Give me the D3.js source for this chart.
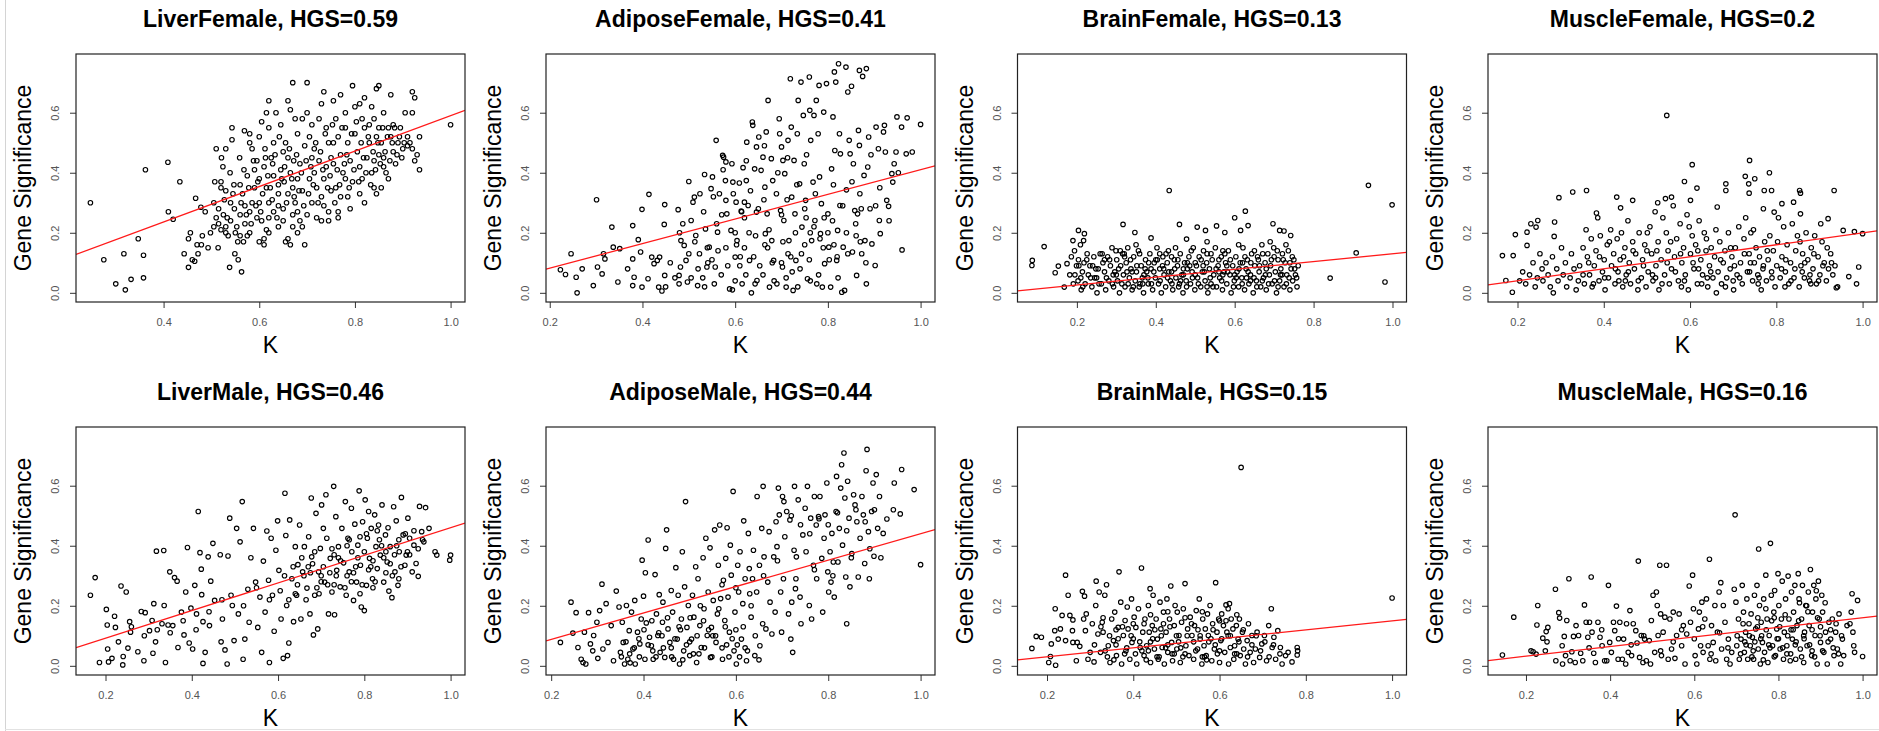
<!DOCTYPE html>
<html>
<head>
<meta charset="utf-8">
<script src="https://cdn.jsdelivr.net/npm/d3@7"></script>
<style>
  body { margin: 0; background: #fff; }
  text { font-family: "Liberation Sans", Arial, Helvetica, sans-serif; }
</style>
</head>
<body>
<script>
// Panel names and HGS values (red line is GS = HGS * K)
const panelNames = ["LiverFemale", "AdiposeFemale", "BrainFemale", "MuscleFemale",
                    "LiverMale", "AdiposeMale", "BrainMale", "MuscleMale"];
const hgsValues = [0.59, 0.41, 0.13, 0.2, 0.46, 0.44, 0.15, 0.16];
const xTickValues = [0.2, 0.4, 0.6, 0.8, 1.0];
const yTickValues = [0.0, 0.2, 0.4, 0.6];
const yLimits = [0, 0.765];

// points as [K, Gene Significance]
const liverFemale = [[.247,.30],[.275,.11],[.30,.03],[.317,.13],[.32,.01],[.332,.045],[.347,.18],[.358,.125],[.358,.05],[.362,.41],
[.409,.435],[.41,.27],[.42,.245],[.434,.37],[.443,.13],[.452,.085],[.452,.18],[.456,.2],[.467,.315],[.465,.105],[.472,.13],[.479,.16],
[.481,.19],[.478,.285],[.487,.27],[.493,.15],[.498,.2],[.47,.16],[.46,.11],[.505,.30],[.507,.37],[.51,.48],[.514,.15],[.52,.37],
[.521,.45],[.524,.42],[.53,.48],[.539,.40],[.538,.085],[.543,.55],[.543,.51],[.51,.25],[.515,.23],[.52,.21],[.525,.26],[.53,.22],
[.535,.19],[.54,.24],[.545,.33],[.548,.28],[.53,.34],[.52,.35],[.54,.3],[.55,.2],[.505,.22],[.549,.13],[.556,.11],[.563,.07],
[.559,.45],[.567,.17],[.569,.54],[.58,.53],[.56,.36],[.565,.33],[.57,.23],[.575,.19],[.58,.5],[.585,.48],[.59,.41],[.56,.26],
[.575,.39],[.585,.3],[.595,.25],[.6,.52],[.59,.35],[.57,.29],[.58,.2],[.595,.44],[.555,.17],[.605,.57],[.61,.16],[.61,.18],
[.615,.6],[.62,.64],[.62,.55],[.63,.5],[.625,.45],[.61,.42],[.6,.38],[.615,.35],[.62,.3],[.63,.27],[.64,.22],[.605,.24],[.615,.21],
[.63,.39],[.64,.33],[.645,.56],[.65,.47],[.635,.6],[.645,.41],[.65,.28],[.62,.25],[.64,.36],[.6,.3],[.612,.48],[.628,.43],
[.655,.17],[.66,.18],[.665,.16],[.66,.64],[.665,.61],[.67,.70],[.675,.58],[.68,.53],[.655,.5],[.66,.45],[.665,.4],[.67,.35],
[.675,.3],[.68,.27],[.685,.24],[.69,.22],[.69,.58],[.695,.49],[.66,.33],[.67,.26],[.68,.38],[.685,.43],[.69,.34],[.695,.16],
[.7,.7],[.7,.6],[.652,.37],[.672,.44],[.705,.52],[.71,.45],[.715,.4],[.72,.35],[.71,.3],[.72,.25],[.73,.24],[.735,.67],[.73,.63],
[.725,.58],[.74,.55],[.745,.5],[.74,.42],[.735,.38],[.73,.32],[.745,.27],[.75,.34],[.705,.38],[.715,.48],[.725,.44],[.745,.24],
[.75,.45],[.71,.56],[.735,.29],[.755,.64],[.76,.58],[.765,.52],[.77,.46],[.775,.4],[.76,.35],[.765,.27],[.77,.66],[.78,.6],
[.78,.55],[.785,.5],[.79,.44],[.78,.38],[.785,.32],[.79,.28],[.795,.69],[.8,.62],[.8,.53],[.755,.43],[.77,.32],[.795,.37],
[.755,.5],[.765,.25],[.805,.47],[.81,.42],[.815,.38],[.82,.3],[.81,.63],[.815,.58],[.82,.55],[.83,.5],[.825,.45],[.835,.4],
[.84,.35],[.845,.68],[.85,.69],[.84,.58],[.845,.52],[.85,.46],[.845,.33],[.81,.33],[.83,.56],[.835,.62],[.82,.65],[.84,.44],
[.85,.55],[.855,.5],[.86,.45],[.865,.4],[.855,.35],[.86,.6],[.87,.55],[.875,.52],[.88,.47],[.885,.43],[.87,.38],[.875,.66],
[.88,.56],[.89,.5],[.895,.55],[.86,.42],[.9,.48],[.905,.6],[.91,.52],[.915,.5],[.92,.67],[.925,.65],[.92,.48],[.925,.44],
[.93,.46],[.935,.41],[.935,.52],[.92,.6],[.91,.49],[1.0,.56],
[.515,.28],[.527,.31],[.533,.25],[.547,.36],[.553,.22],[.562,.3],[.568,.41],[.573,.26],[.578,.35],[.583,.23],[.588,.44],[.593,.29],
[.597,.37],[.603,.27],[.607,.33],[.613,.45],[.618,.39],[.623,.35],[.627,.31],[.633,.46],[.637,.25],[.642,.52],[.647,.38],[.653,.42],
[.657,.3],[.663,.48],[.668,.38],[.673,.32],[.678,.46],[.683,.34],[.688,.4],[.693,.29],[.698,.44],[.703,.33],[.708,.42],[.713,.36],
[.718,.5],[.723,.3],[.728,.47],[.733,.41],[.738,.53],[.743,.35],[.748,.39],[.753,.56],[.758,.3],[.763,.41],[.768,.36],[.773,.55],
[.778,.43],[.783,.46],[.788,.35],[.793,.53],[.798,.41],[.803,.57],[.808,.37],[.813,.5],[.818,.45],[.823,.4],[.828,.52],[.833,.36],
[.838,.47],[.843,.41],[.848,.5],[.853,.43],[.858,.55],[.863,.47],[.868,.52],[.873,.44],[.878,.5],[.883,.55],[.888,.46],[.893,.52],
[.898,.45],[.903,.5],[.62,.2],[.65,.24],[.68,.2],[.7,.26],[.6,.17],[.56,.19],[.53,.2],[.58,.27],[.64,.29],[.67,.22]];

const adiposeFemale = [[.223,.077],[.234,.061],[.246,.13],[.257,.052],[.259,0],[.27,.08],[.294,.024],[.301,.31],[.303,.086],[.313,.063],
[.316,.13],[.319,.113],[.334,.219],[.337,.152],[.347,.036],[.351,.147],[.368,.08],[.379,.224],[.379,.113],[.379,.024],[.382,.052],
[.391,.177],[.396,.136],[.399,.278],[.399,.019],[.412,.047],[.414,.328],[.42,.119],[.425,.097],[.432,.108],[.437,.119],[.435,.019],
[.442,.006],[.448,.058],[.448,.294],[.447,.228],[.477,.277],[.479,.058],[.479,.03],[.482,.086],[.483,.174],[.487,.23],[.49,.158],
[.494,.108],[.497,.036],[.5,.371],[.505,.241],[.509,.302],[.512,.319],[.515,.191],[.519,.024],[.523,.13],[.524,.33],[.534,.394],
[.536,.213],[.539,.086],[.544,.152],[.548,.347],[.551,.386],[.555,.03],[.557,.086],[.559,.508],[.562,.202],[.566,.33],[.573,.458],
[.575,.452],[.58,.436],[.579,.374],[.58,.308],[.582,.263],[.588,.013],[.591,.208],[.593,.43],[.595,.369],[.6,.119],[.602,.302],
[.604,.174],[.609,.366],[.613,.272],[.615,.03],[.617,.417],[.62,.302],[.624,.374],[.625,.502],[.628,.291],[.631,.108],[.635,0],
[.637,.569],[.638,.558],[.642,.413],[.646,.486],[.646,.269],[.647,.041],[.651,.519],[.656,.408],[.66,.452],[.664,.352],[.665,.197],
[.667,.536],[.669,.263],[.671,.641],[.674,.019],[.678,.447],[.679,.174],[.681,.374],[.683,.108],[.689,.33],[.695,.58],[.696,.53],
[.698,.274],[.7,.486],[.702,.086],[.703,.441],[.705,.241],[.707,.397],[.71,.019],[.714,.508],[.716,.174],[.719,.713],[.721,.552],
[.722,.319],[.725,.008],[.727,.441],[.729,.263],[.731,.108],[.734,.53],[.736,.641],[.739,.363],[.742,.702],[.744,.219],[.747,.591],
[.749,.43],[.752,.308],[.756,.047],[.76,.719],[.761,.608],[.763,.508],[.765,.174],[.768,.369],[.77,.591],[.772,.241],[.775,.641],
[.779,.53],[.781,.691],[.782,.386],[.784,.197],[.786,.297],[.788,.019],[.791,.602],[.793,.097],[.797,.697],[.8,.263],[.802,.152],
[.806,.019],[.808,.413],[.811,.586],[.814,.736],[.815,.474],[.817,.702],[.819,.108],[.821,.208],[.823,.763],[.825,.53],[.826,.291],
[.827,.463],[.83,.002],[.833,.152],[.836,.008],[.839,.752],[.84,.343],[.843,.669],[.846,.508],[.848,.463],[.851,.688],[.853,.136],
[.855,.43],[.858,.274],[.862,.058],[.864,.263],[.866,.541],[.868,.491],[.869,.33],[.868,.741],[.873,.13],[.875,.721],[.878,.391],
[.88,.174],[.883,.747],[.883,.03],[.886,.419],[.888,.519],[.891,.28],[.895,.163],[.902,.091],[.904,.552],[.909,.48],[.911,.241],
[.913,.197],[.92,.536],[.922,.558],[.924,.469],[.927,.308],[.931,.288],[.938,.397],[.94,.369],[.943,.43],[.949,.586],[.947,.469],
[.959,.552],[.96,.143],[.969,.463],[.971,.583],[.982,.469],[1.0,.561],
[.52,.08],[.53,.05],[.55,.11],[.57,.06],[.58,.15],[.6,.04],[.61,.09],[.62,.15],[.63,.2],[.64,.12],[.66,.06],[.67,.15],[.68,.1],
[.69,.03],[.7,.1],[.71,.05],[.72,.12],[.73,.2],[.74,.08],[.75,.16],[.76,.11],[.77,.22],[.78,.06],[.79,.15],[.8,.2],[.81,.24],
[.82,.12],[.84,.2],[.86,.23],[.87,.17],[.62,.25],[.65,.28],[.7,.26],[.75,.28],[.6,.2],[.56,.23],[.54,.15],[.5,.13],[.47,.05],[.45,.02],
[.46,.1],[.48,.2],[.505,.05],[.513,.17],[.532,.27],[.541,.1],[.553,.32],[.563,.14],[.571,.26],[.584,.09],[.596,.33],[.603,.16],
[.614,.27],[.623,.06],[.633,.34],[.644,.19],[.653,.09],[.662,.31],[.673,.21],[.684,.04],[.692,.4],[.703,.17],[.712,.31],[.723,.07],
[.733,.36],[.743,.13],[.753,.25],[.762,.04],[.773,.33],[.783,.18],[.792,.25],[.803,.11],[.812,.36],[.822,.05],[.832,.29],[.843,.13],
[.852,.37],[.861,.19],[.872,.28],[.882,.1],[.893,.46],[.903,.29],[.912,.35],[.932,.24],[.952,.4],[.574,.41],[.624,.44],[.663,.49],
[.713,.45],[.754,.46],[.534,.02],[.594,.01],[.643,.03],[.735,.02],[.776,.03],[.611,.12],[.664,.16],[.714,.13],[.762,.2],[.813,.16]];

const brainFemale = [[.087,.108],[.086,.091],[.117,.154],[.145,.067],[.153,.089],[.168,.019],[.175,.097],[.19,.174],[.204,.208],
[.219,.197],[.217,.174],[.317,.228],[.347,.201],[.388,.183],[.434,.341],[.46,.228],[.478,.179],[.505,.219],[.526,.208],[.554,.223],
[.575,.201],[.6,.25],[.615,.208],[.627,.272],[.634,.224],[.697,.23],[.714,.208],[.725,.206],[.742,.191],[.842,.049],[.908,.133],
[.939,.358],[.981,.036],[.999,.293],
[.182,.06],[.186,.12],[.191,.03],[.194,.14],[.199,.09],[.203,.04],[.204,.11],[.209,.16],[.211,.01],[.214,.07],[.218,.1],[.221,.03],
[.226,.13],[.229,.06],[.233,.09],[.238,.02],[.243,.12],[.245,.05],[.251,0],[.254,.08],[.259,.13],[.262,.03],[.266,.1],[.27,.07],
[.273,.01],[.278,.12],[.281,.04],[.285,.09],[.289,.15],[.293,.02],[.296,.07],[.301,.11],[.303,.04],[.308,0],[.311,.09],[.316,.13],
[.318,.06],[.322,.02],[.325,.1],[.329,.15],[.333,.05],[.337,.08],[.34,.01],[.344,.12],[.348,.04],[.351,.07],[.356,.14],[.358,.02],
[.363,.09],[.366,.05],[.369,0],[.374,.11],[.377,.07],[.381,.03],[.385,.13],[.388,.08],[.392,.01],[.396,.1],[.399,.05],[.403,.15],
[.407,.03],[.41,.08],[.414,0],[.418,.12],[.421,.06],[.425,.02],[.429,.1],[.432,.14],[.437,.04],[.44,.07],[.443,.01],[.447,.11],
[.451,.05],[.455,.09],[.458,.02],[.462,.13],[.466,.06],[.469,0],[.473,.1],[.477,.04],[.48,.08],[.484,.12],[.488,.03],[.492,.07],
[.495,.15],[.499,.01],[.503,.09],[.506,.05],[.51,.12],[.514,.02],[.518,.07],[.521,.14],[.525,.04],[.529,.1],[.532,0],[.536,.08],
[.54,.03],[.543,.11],[.547,.06],[.551,.15],[.554,.02],[.558,.09],[.562,.05],[.566,.12],[.569,.01],[.573,.07],[.577,.1],[.58,.03],
[.584,.14],[.588,.06],[.591,0],[.595,.09],[.599,.04],[.603,.12],[.606,.07],[.61,.02],[.614,.1],[.618,.05],[.621,.15],[.625,.01],
[.629,.08],[.632,.11],[.636,.03],[.64,.06],[.643,.13],[.647,0],[.651,.09],[.655,.04],[.658,.12],[.662,.07],[.666,.02],[.669,.16],
[.673,.05],[.677,.1],[.68,.01],[.684,.13],[.688,.06],[.691,.09],[.695,.03],[.699,.15],[.703,.07],[.706,0],[.71,.11],[.714,.04],
[.717,.08],[.721,.13],[.725,.02],[.728,.1],[.732,.06],[.736,.14],[.74,.01],[.743,.08],[.747,.04],[.75,.11],[.754,.06],[.758,.02],
[.761,.09],[.21,.05],[.24,.09],[.27,.11],[.3,.06],[.32,.13],[.34,.07],[.36,.03],[.38,.05],[.4,.11],[.42,.08],[.44,.12],[.46,.03],
[.48,.1],[.5,.06],[.52,.09],[.54,.13],[.56,.07],[.58,.09],[.6,.06],[.62,.1],[.64,.04],[.66,.11],[.68,.08],[.7,.12],[.72,.06],
[.74,.1],[.31,.14],[.35,.16],[.41,.13],[.45,.15],[.49,.14],[.53,.17],[.57,.14],[.61,.16],[.65,.14],[.69,.17],[.73,.16],
[.195,.06],[.205,.09],[.215,.02],[.225,.11],[.235,.05],[.248,.08],[.256,.03],[.264,.13],[.275,.05],[.283,.11],[.292,.06],[.299,.14],
[.306,.08],[.314,.03],[.321,.12],[.327,.07],[.336,.11],[.343,.02],[.352,.09],[.359,.13],[.367,.03],[.373,.08],[.382,.1],[.389,.03],
[.395,.07],[.404,.11],[.411,.04],[.417,.09],[.426,.13],[.433,.07],[.441,.03],[.448,.08],[.456,.11],[.463,.04],[.47,.08],[.478,.02],
[.486,.09],[.493,.05],[.5,.1],[.508,.03],[.515,.11],[.523,.07],[.53,.13],[.538,.05],[.545,.02],[.553,.08],[.56,.11],[.567,.04],
[.575,.13],[.582,.07],[.589,.11],[.597,.02],[.604,.05],[.611,.08],[.619,.03],[.626,.12],[.634,.07],[.641,.1],[.649,.05],[.656,.02],
[.663,.09],[.671,.13],[.678,.06],[.686,.03],[.693,.11],[.701,.04],[.708,.14],[.716,.06],[.723,.11],[.731,.03],[.738,.05],[.746,.12],
[.752,.08],[.757,.05],[.33,.03],[.37,.06],[.43,.05],[.47,.06],[.53,.02],[.57,.06],[.63,.05],[.67,.04],[.71,.02],[.25,.05],[.29,.03]];

const muscleFemale = [[.165,.124],[.173,.041],[.188,.002],[.19,.124],[.195,.194],[.222,.158],[.222,.202],[.231,.23],[.247,.241],
[.243,.219],[.296,.317],[.328,.336],[.286,.236],[.285,.188],[.36,.341],[.383,.266],[.43,.319],[.439,.283],[.467,.308],[.525,.3],
[.546,.591],[.543,.314],[.557,.319],[.587,.371],[.605,.427],[.616,.349],[.601,.308],[.663,.286],[.683,.363],[.683,.341],[.728,.388],
[.736,.363],[.737,.332],[.738,.441],[.75,.38],[.77,.28],[.772,.341],[.784,.4],[.789,.341],[.795,.269],[.813,.297],[.84,.302],
[.854,.341],[.856,.332],[.856,.263],[.934,.341],[.92,.247],[.903,.23],[.955,.208],[.981,.204],[1.0,.197],[.991,.086],[.968,.054],
[.986,.03],[.939,.017],
[.205,.04],[.212,.07],[.219,.03],[.228,.06],[.236,.1],[.241,.02],[.246,.05],[.252,.13],[.257,.08],[.259,.04],[.266,.1],[.271,.06],
[.276,.02],[.281,.12],[.283,0],[.291,.08],[.294,.04],[.302,.15],[.306,.06],[.311,.1],[.314,.02],[.322,.05],[.325,.13],[.331,.08],
[.336,.01],[.341,.04],[.344,.09],[.352,.15],[.355,.03],[.359,.21],[.362,.12],[.367,.06],[.371,.18],[.373,.02],[.378,.09],[.382,.14],
[.386,.25],[.389,.04],[.392,.19],[.397,.07],[.401,.11],[.403,.01],[.408,.16],[.411,.05],[.416,.21],[.418,.09],[.423,.13],[.426,.03],
[.431,.18],[.433,.07],[.438,.11],[.441,.2],[.444,.02],[.449,.15],[.452,.06],[.456,.24],[.459,.1],[.462,.03],[.467,.17],[.471,.08],
[.474,.13],[.479,.01],[.482,.2],[.487,.05],[.49,.11],[.495,.16],[.498,.02],[.503,.07],[.507,.22],[.511,.13],[.514,.04],[.519,.27],
[.521,.09],[.526,.17],[.528,.01],[.533,.11],[.537,.25],[.541,.06],[.545,.2],[.549,.14],[.552,.03],[.557,.08],[.561,.29],[.564,.12],
[.569,.18],[.573,.04],[.577,.23],[.581,.1],[.585,.15],[.589,.06],[.593,.26],[.596,.01],[.601,.13],[.605,.19],[.609,.08],[.613,.16],
[.617,.03],[.621,.24],[.625,.11],[.629,.06],[.633,.2],[.637,.14],[.641,.02],[.645,.09],[.649,.15],[.653,.05],[.657,.12],[.661,0],
[.665,.07],[.669,.17],[.673,.03],[.677,.1],[.681,.14],[.685,.05],[.689,.2],[.693,.08],[.697,.12],[.701,.01],[.705,.15],[.709,.06],
[.713,.22],[.717,.1],[.721,.03],[.725,.18],[.729,.25],[.733,.07],[.737,.13],[.741,.2],[.745,.04],[.749,.1],[.753,.15],[.757,.06],
[.761,.12],[.765,.01],[.769,.08],[.773,.17],[.777,.04],[.781,.11],[.785,.19],[.789,.07],[.793,.14],[.797,.02],[.801,.09],[.805,.25],
[.809,.05],[.813,.12],[.817,.22],[.821,.07],[.825,.16],[.829,.03],[.833,.1],[.837,.23],[.841,.05],[.845,.14],[.849,.19],[.853,.02],
[.857,.09],[.861,.13],[.865,.05],[.869,.2],[.873,.11],[.877,.04],[.881,.15],[.885,.08],[.889,.19],[.893,.03],[.897,.12],[.901,.06],
[.906,.17],[.911,.1],[.916,.04],[.921,.08],[.926,.13],[.931,.06],[.936,.09],[.942,.02],
[.352,.06],[.365,.1],[.376,.03],[.39,.12],[.402,.05],[.413,.17],[.427,.08],[.435,.04],[.446,.12],[.457,.07],[.468,.14],[.48,.04],
[.492,.09],[.501,.2],[.513,.06],[.523,.14],[.535,.03],[.547,.1],[.555,.17],[.566,.07],[.578,.13],[.587,.04],[.598,.22],[.607,.1],
[.618,.14],[.627,.03],[.638,.18],[.648,.07],[.66,.21],[.671,.11],[.682,.02],[.694,.15],[.703,.09],[.715,.05],[.726,.13],[.738,.07],
[.747,.21],[.758,.03],[.77,.09],[.779,.14],[.79,.05],[.803,.17],[.812,.08],[.822,.11],[.834,.04],[.843,.08],[.855,.17],[.866,.1],
[.878,.06],[.887,.13],[.898,.04],[.908,.09],[.918,.15],[.928,.1],[.45,.04],[.52,.05],[.58,.02],[.64,.05],[.7,.04],[.76,.05],
[.82,.02],[.88,.03],[.5,.14],[.62,.08],[.74,.1],[.86,.07]];

const liverMale = [[.165,.235],[.176,.294],[.186,.011],[.202,.188],[.204,.136],[.205,.056],[.207,.013],[.215,.025],[.221,.165],
[.223,.128],[.236,.266],[.24,.003],[.241,.031],[.248,.246],[.252,.059],[.256,.147],[.258,.112],[.275,.047],[.283,.181],[.289,.017],
[.292,.177],[.302,.117],[.308,.151],[.31,.042],[.312,.207],[.316,.08],[.318,.382],[.331,.14],[.335,.384],[.336,.201],[.339,.011],
[.345,.136],[.349,.313],[.356,.134],[.36,.294],[.366,.282],[.368,.061],[.376,.179],[.382,.103],[.386,.246],[.39,.394],[.394,.076],
[.398,.192],[.402,.056],[.407,.268],[.411,.173],[.415,.514],[.419,.377],[.422,.322],[.423,.237],[.426,.147],[.426,.008],[.431,.045],
[.438,.363],[.441,.134],[.444,.282],[.449,.408],[.453,.218],[.466,.37],[.468,.08],[.471,.156],[.477,.053],[.482,.006],[.484,.366],
[.488,.492],[.491,.235],[.494,.201],[.498,.084],[.504,.458],[.508,.173],[.512,.413],[.517,.547],[.519,.022],[.523,.089],[.53,.255],
[.533,.145],[.537,.36],[.543,.458],[.548,.279],[.553,.128],[.558,.229],[.562,.045],[.566,.349],[.57,.179],[.574,.449],[.578,.285],
[.58,.011],[.584,.425],[.587,.235],[.591,.115],[.595,.385],[.599,.483],[.602,.318],[.607,.156],[.612,.025],[.616,.575],[.618,.434],
[.62,.201],[.622,.034],[.625,.076],[.627,.486],[.632,.29],[.636,.147],[.64,.397],[.643,.235],[.646,.337],[.65,.469],[.653,.156],
[.657,.313],[.661,.397],[.667,.259],[.671,.43],[.674,.173],[.677,.559],[.678,.363],[.682,.103],[.685,.235],[.688,.508],[.692,.123],
[.694,.313],[.698,.391],[.701,.536],[.705,.458],[.708,.279],[.711,.57],[.713,.425],[.717,.173],[.721,.358],[.725,.246],[.729,.598],
[.731,.17],[.734,.497],[.736,.318],[.74,.397],[.744,.263],[.748,.458],[.752,.343],[.756,.547],[.758,.235],[.762,.425],[.765,.313],
[.77,.525],[.771,.38],[.775,.218],[.778,.472],[.782,.279],[.785,.402],[.788,.583],[.791,.335],[.793,.196],[.796,.48],[.8,.184],
[.802,.553],[.805,.268],[.807,.425],[.81,.514],[.812,.358],[.816,.458],[.819,.29],[.824,.503],[.827,.397],[.83,.324],[.833,.469],
[.837,.369],[.841,.536],[.845,.279],[.849,.436],[.853,.346],[.857,.249],[.86,.397],[.864,.227],[.868,.53],[.871,.313],[.874,.483],
[.878,.268],[.881,.38],[.886,.561],[.89,.436],[.894,.335],[.897,.369],[.901,.492],[.905,.425],[.911,.313],[.915,.402],[.92,.341],
[.925,.298],[.928,.531],[.933,.447],[.938,.413],[.942,.527],[.95,.458],[.964,.38],[.968,.369],[.998,.352],[1.0,.369],
[.66,.3],[.68,.34],[.7,.28],[.72,.31],[.74,.36],[.76,.3],[.78,.33],[.8,.38],[.82,.35],[.84,.4],[.86,.34],[.88,.42],[.9,.38],
[.76,.4],[.79,.43],[.83,.45],[.87,.37],[.73,.27],[.69,.26],[.81,.32],[.85,.31],
[.605,.25],[.615,.3],[.625,.22],[.635,.33],[.645,.27],[.655,.36],[.665,.22],[.675,.31],[.685,.38],[.695,.24],[.705,.33],[.715,.27],
[.725,.39],[.735,.3],[.745,.35],[.755,.26],[.765,.42],[.775,.31],[.785,.36],[.795,.27],[.805,.44],[.815,.33],[.825,.28],[.835,.42],
[.845,.36],[.855,.46],[.865,.3],[.875,.4],[.885,.33],[.895,.44],[.905,.37],[.915,.45],[.925,.39],[.935,.42],[.79,.24],[.82,.26],
[.85,.38],[.88,.29],[.77,.28],[.73,.37],[.7,.3],[.67,.33],[.64,.24],[.58,.22],[.55,.26],[.52,.2],[.47,.22],[.44,.18],[.41,.12],
[.38,.15],[.35,.11],[.32,.12],[.29,.1],[.26,.13],[.23,.08]];

const adiposeMale = [[.22,.078],[.243,.212],[.247,.109],[.254,.177],[.258,.061],[.265,.022],[.269,.011],[.275,.006],[.272,.112],
[.281,.177],[.285,.073],[.29,.05],[.292,.101],[.299,.145],[.301,.025],[.305,.184],[.31,.272],[.312,.056],[.319,.207],[.323,.078],
[.33,.134],[.335,.017],[.341,.249],[.347,.196],[.35,.045],[.354,.145],[.356,.078],[.359,.006],[.363,.201],[.366,.022],[.369,.117],
[.374,.179],[.377,.056],[.381,.218],[.382,.006],[.387,.112],[.392,.073],[.395,.156],[.397,.352],[.4,.232],[.403,.022],[.404,.31],
[.406,.143],[.41,.419],[.413,.095],[.417,.067],[.421,.022],[.425,.304],[.428,.173],[.431,.101],[.434,.237],[.436,.045],[.441,.145],
[.442,.212],[.446,.028],[.448,.391],[.45,.453],[.453,.123],[.457,.078],[.46,.251],[.463,.179],[.465,.022],[.47,.327],[.473,.089],
[.475,.235],[.478,.006],[.482,.156],[.484,.38],[.487,.05],[.489,.263],[.491,.547],[.494,.128],[.497,.201],[.5,.034],[.504,.089],
[.506,.235],[.509,.162],[.513,.33],[.515,.011],[.518,.29],[.522,.134],[.525,.061],[.529,.36],[.531,.19],[.535,.425],[.538,.101],
[.54,.246],[.544,.393],[.545,.028],[.547,.128],[.551,.218],[.554,.453],[.557,.078],[.56,.173],[.562,.335],[.565,.469],[.567,.224],
[.571,.022],[.573,.285],[.576,.151],[.578,.358],[.581,.46],[.583,.229],[.586,.112],[.588,.402],[.59,.302],[.594,.581],[.596,.05],
[.598,.179],[.601,.006],[.604,.335],[.606,.246],[.609,.38],[.612,.089],[.615,.207],[.617,.483],[.62,.29],[.623,.017],[.627,.441],
[.629,.324],[.633,.162],[.636,.29],[.638,.385],[.641,.034],[.645,.246],[.646,.564],[.651,.335],[.652,.067],[.656,.458],[.659,.598],
[.661,.363],[.665,.123],[.669,.279],[.672,.447],[.674,.212],[.678,.106],[.682,.363],[.685,.179],[.687,.48],[.689,.397],[.692,.592],
[.694,.503],[.697,.246],[.699,.112],[.701,.564],[.703,.29],[.704,.547],[.706,.43],[.71,.514],[.714,.173],[.717,.486],[.719,.089],
[.721,.212],[.723,.045],[.726,.385],[.727,.598],[.729,.257],[.731,.363],[.735,.553],[.739,.229],[.741,.14],[.745,.436],[.75,.525],
[.752,.38],[.755,.598],[.759,.201],[.762,.492],[.764,.156],[.768,.335],[.77,.564],[.774,.469],[.775,.29],[.779,.497],[.782,.564],
[.786,.358],[.788,.179],[.791,.425],[.793,.503],[.797,.609],[.799,.313],[.801,.246],[.804,.38],[.806,.279],[.808,.441],[.811,.346],
[.813,.229],[.817,.514],[.818,.631],[.821,.346],[.824,.458],[.827,.592],[.829,.67],[.831,.402],[.834,.709],[.836,.559],[.838,.296],
[.84,.14],[.842,.615],[.845,.492],[.847,.263],[.851,.374],[.855,.57],[.858,.536],[.862,.48],[.865,.296],[.869,.425],[.873,.564],
[.876,.503],[.879,.341],[.882,.65],[.884,.721],[.887,.447],[.889,.29],[.894,.514],[.897,.609],[.899,.365],[.904,.637],[.907,.458],
[.911,.564],[.914,.36],[.919,.441],[.927,.489],[.941,.52],[.943,.609],[.956,.506],[.959,.654],[.986,.587],[1.0,.337],
[.37,.04],[.39,.09],[.42,.05],[.44,.1],[.46,.06],[.48,.12],[.5,.08],[.52,.04],[.53,.15],[.55,.1],[.58,.07],[.6,.12],[.62,.06],
[.352,.03],[.362,.08],[.371,.01],[.38,.06],[.391,.03],[.401,.12],[.41,.07],[.418,.15],[.427,.03],[.433,.11],[.443,.06],[.452,.16],
[.461,.03],[.468,.09],[.477,.13],[.485,.02],[.493,.07],[.501,.16],[.508,.04],[.516,.1],[.523,.2],[.532,.06],[.541,.12],[.548,.03],
[.556,.1],[.563,.19],[.57,.06],[.577,.13],[.585,.03],[.592,.09],[.603,.07],[.608,.03],[.616,.13],[.625,.05],[.633,.2],[.642,.1],
[.65,.02],[.658,.14],[.72,.5],[.74,.47],[.76,.44],[.78,.49],[.8,.47],[.82,.51],[.84,.45],[.86,.52],[.88,.48],[.9,.52],[.77,.32],
[.81,.3],[.85,.36],[.89,.39],[.73,.29],[.69,.35],[.66,.3],[.63,.24],[.6,.26],[.57,.27]];

const brainMale = [[.165,.058],[.175,.098],[.187,.095],[.204,.011],[.208,.031],[.21,.073],[.218,.117],[.22,.002],[.219,.19],[.226,.089],
[.231,.123],[.235,.168],[.243,.302],[.243,.084],[.249,.235],[.253,.168],[.26,.153],[.259,.117],[.26,.078],[.268,.017],[.27,.078],
[.276,.065],[.282,.248],[.285,.156],[.287,.232],[.289,.117],[.291,.173],[.295,.022],[.3,.045],[.305,.14],[.309,.013],[.313,.201],
[.314,.282],[.318,.106],[.321,.246],[.324,.045],[.328,.145],[.33,.112],[.334,.235],[.338,.27],[.342,.067],[.346,.011],[.35,.156],
[.354,.084],[.357,.179],[.361,.034],[.365,.128],[.367,.313],[.371,.212],[.373,.006],[.377,.101],[.381,.151],[.383,.05],[.386,.196],
[.388,.123],[.392,.022],[.396,.223],[.397,.078],[.402,.162],[.406,.128],[.408,.006],[.412,.19],[.416,.061],[.419,.326],[.422,.112],
[.425,.034],[.427,.156],[.431,.067],[.435,.201],[.437,.112],[.439,.257],[.44,.011],[.444,.134],[.446,.235],[.449,.056],[.453,.156],
[.456,.089],[.458,.022],[.462,.212],[.464,.123],[.467,.061],[.47,.179],[.472,.006],[.476,.112],[.478,.223],[.48,.045],[.484,.156],
[.487,.266],[.489,.078],[.491,.017],[.495,.134],[.497,.201],[.501,.056],[.502,.179],[.506,.101],[.509,.011],[.512,.145],[.516,.19],
[.52,.274],[.522,.067],[.526,.123],[.529,.034],[.532,.162],[.536,.101],[.54,.022],[.542,.134],[.546,.184],[.549,.056],[.553,.223],
[.555,.089],[.559,.006],[.561,.156],[.564,.067],[.567,.123],[.569,.034],[.572,.173],[.574,.101],[.578,.201],[.582,.017],[.584,.14],
[.588,.056],[.591,.277],[.594,.112],[.598,.156],[.6,.011],[.603,.084],[.605,.173],[.609,.134],[.612,.045],[.615,.203],[.617,.112],
[.621,.006],[.623,.207],[.625,.061],[.627,.156],[.631,.123],[.633,.022],[.635,.067],[.639,.134],[.643,.089],[.646,.156],[.648,.034],
[.65,.661],[.653,.112],[.656,.056],[.66,.006],[.664,.084],[.667,.14],[.671,.045],[.675,.101],[.679,.011],[.683,.056],[.687,.112],
[.693,.028],[.698,.073],[.704,.101],[.709,.017],[.714,.134],[.72,.19],[.722,.061],[.726,.095],[.73,.022],[.735,.117],[.741,.061],
[.745,.006],[.753,.034],[.759,.045],[.768,.013],[.78,.061],[.78,.036],[.781,.05],[1.0,.226],
[.34,.03],[.36,.07],[.38,.04],[.4,.09],[.42,.05],[.44,.08],[.46,.03],[.48,.07],[.5,.1],[.52,.04],[.54,.08],[.56,.03],[.58,.09],
[.6,.05],[.62,.1],[.64,.04],[.45,.12],[.47,.14],[.51,.06],[.55,.12],[.59,.07],[.43,.02],[.49,.04],[.57,.02],
[.31,.07],[.325,.13],[.335,.05],[.345,.1],[.355,.02],[.365,.09],[.375,.13],[.385,.06],[.395,.1],[.405,.04],[.415,.08],[.425,.14],
[.435,.05],[.445,.09],[.455,.03],[.465,.1],[.475,.06],[.485,.13],[.495,.04],[.505,.08],[.515,.03],[.525,.1],[.535,.14],[.545,.05],
[.555,.1],[.565,.03],[.575,.08],[.585,.12],[.595,.04],[.605,.09],[.615,.15],[.625,.1],[.635,.04],[.645,.08],[.655,.12],[.665,.03],
[.675,.07],[.685,.1],[.695,.05],[.705,.08],[.715,.03],[.725,.07],[.74,.04],[.44,.17],[.48,.18],[.52,.16],[.56,.18],[.6,.15],
[.4,.14],[.36,.12],[.33,.16],[.62,.19],[.64,.17]];

const muscleMale = [[.144,.036],[.171,.162],[.212,.05],[.217,.047],[.224,.039],[.226,.136],[.228,.201],[.24,.092],[.246,.05],[.248,.114],
[.25,.08],[.252,.128],[.27,.255],[.271,.017],[.278,.177],[.28,.159],[.286,.067],[.287,.006],[.291,.098],[.294,.034],[.297,.151],
[.302,.29],[.305,.017],[.309,.047],[.313,.098],[.317,.011],[.319,.134],[.325,.101],[.33,.042],[.335,.017],[.339,.203],[.343,.145],
[.347,.095],[.351,.145],[.355,.296],[.357,.112],[.361,.042],[.365,.011],[.371,.145],[.376,.095],[.381,.067],[.387,.017],[.392,.017],
[.396,.268],[.399,.078],[.403,.045],[.408,.145],[.411,.117],[.415,.199],[.419,.022],[.423,.145],[.429,.022],[.432,.089],[.437,.006],
[.439,.14],[.443,.045],[.447,.184],[.451,.034],[.455,.14],[.461,.117],[.464,.076],[.467,.349],[.47,.028],[.474,.101],[.478,.011],
[.482,.089],[.486,.017],[.493,.084],[.496,.006],[.498,.151],[.502,.235],[.506,.045],[.51,.246],[.512,.201],[.514,.101],[.518,.335],
[.52,.173],[.522,.034],[.526,.112],[.53,.162],[.534,.335],[.538,.022],[.542,.156],[.546,.056],[.55,.179],[.554,.025],[.558,.101],
[.564,.173],[.57,.067],[.574,.134],[.578,.006],[.582,.106],[.588,.266],[.591,.145],[.596,.302],[.598,.19],[.602,.034],[.606,.006],
[.61,.123],[.612,.179],[.615,.067],[.618,.212],[.621,.045],[.625,.156],[.629,.223],[.633,.067],[.636,.355],[.637,.022],[.641,.134],
[.645,.078],[.649,.201],[.651,.017],[.655,.112],[.659,.246],[.663,.277],[.665,.056],[.669,.201],[.673,.145],[.677,.022],[.681,.089],
[.685,.006],[.689,.045],[.695,.255],[.697,.503],[.699,.212],[.701,.067],[.705,.156],[.707,.022],[.711,.089],[.714,.268],[.717,.179],
[.719,.045],[.722,.112],[.725,.223],[.727,.022],[.73,.14],[.733,.067],[.735,.173],[.738,.095],[.741,.022],[.743,.235],[.746,.123],
[.749,.268],[.752,.056],[.753,.389],[.755,.201],[.757,.006],[.759,.145],[.762,.078],[.765,.223],[.767,.045],[.77,.302],[.773,.156],
[.775,.011],[.778,.101],[.781,.408],[.783,.235],[.786,.067],[.789,.179],[.791,.251],[.793,.034],[.796,.123],[.799,.307],[.801,.201],
[.804,.056],[.807,.156],[.809,.282],[.812,.022],[.814,.112],[.817,.223],[.82,.067],[.823,.299],[.825,.156],[.828,.017],[.831,.246],
[.833,.089],[.836,.179],[.839,.268],[.841,.022],[.844,.134],[.847,.307],[.849,.223],[.852,.056],[.855,.156],[.857,.268],[.86,.011],
[.862,.112],[.865,.201],[.868,.067],[.871,.246],[.873,.134],[.876,.321],[.879,.034],[.881,.179],[.884,.268],[.887,.101],[.889,.223],
[.892,.006],[.895,.282],[.897,.156],[.9,.078],[.903,.235],[.905,.179],[.908,.045],[.912,.112],[.916,.006],[.92,.145],[.924,.089],
[.928,.156],[.932,.034],[.936,.112],[.94,.056],[.944,.173],[.948,.006],[.952,.089],[.955,.034],[.963,.134],[.97,.14],[.973,.179],
[.975,.24],[.977,.112],[.979,.067],[.981,.045],[.988,.218],[1.0,.031],
[.72,.08],[.74,.05],[.76,.1],[.78,.06],[.8,.09],[.82,.04],[.84,.07],[.86,.1],[.88,.05],[.9,.13],[.77,.19],[.79,.16],[.85,.21],
[.87,.18],[.89,.25],[.75,.13],[.83,.12],
[.702,.1],[.71,.04],[.716,.14],[.723,.07],[.731,.1],[.737,.03],[.744,.08],[.751,.16],[.758,.09],[.764,.02],[.771,.12],[.777,.07],
[.784,.15],[.79,.03],[.797,.09],[.803,.13],[.81,.06],[.816,.17],[.822,.1],[.829,.04],[.835,.12],[.842,.08],[.848,.15],[.855,.03],
[.861,.09],[.867,.2],[.874,.07],[.88,.12],[.886,.03],[.893,.16],[.899,.1],[.905,.05],[.911,.21],[.918,.08],[.924,.12],[.93,.06],
[.937,.14],[.943,.04],[.95,.1],[.6,.09],[.62,.13],[.64,.04],[.66,.11],[.68,.06],[.55,.08],[.57,.12],[.52,.05],[.48,.1],[.45,.07],
[.42,.09],[.38,.12],[.35,.06]];

const panelPoints = [liverFemale, adiposeFemale, brainFemale, muscleFemale,
                     liverMale, adiposeMale, brainMale, muscleMale];

// layout (pixels)
const width = 1879, height = 731;
const boxLefts = [76, 546, 1017.5, 1488];
const boxTops = [54, 427];
const boxW = 389, boxH = 248;

const svg = d3.select("body").append("svg")
    .attr("width", width)
    .attr("height", height);

svg.append("rect").attr("width", width).attr("height", height).attr("fill", "#fff");

// faint page frame on the left and bottom
svg.append("line").attr("x1", 5.5).attr("x2", 5.5).attr("y1", 0).attr("y2", height)
    .attr("stroke", "#d4d4d4").attr("stroke-width", 1);
svg.append("line").attr("x1", 5).attr("x2", width).attr("y1", 729.5).attr("y2", 729.5)
    .attr("stroke", "#e2e2e2").attr("stroke-width", 1);

const fmt = d3.format(".1f");

panelNames.forEach((name, i) => {
    const col = i % 4, row = Math.floor(i / 4);
    const x0 = boxLefts[col], y0 = boxTops[row];
    const pts = panelPoints[i];

    // R style: data range plus 4% on each side
    const ext = d3.extent(pts, d => d[0]);
    const xPad = (ext[1] - ext[0]) * 0.04;
    const yPad = (yLimits[1] - yLimits[0]) * 0.04;

    const x = d3.scaleLinear().domain([ext[0] - xPad, ext[1] + xPad]).range([x0, x0 + boxW]);
    const y = d3.scaleLinear().domain([yLimits[0] - yPad, yLimits[1] + yPad]).range([y0 + boxH, y0]);

    const g = svg.append("g");

    const clipId = "clip" + i;
    svg.append("clipPath").attr("id", clipId)
        .append("rect").attr("x", x0).attr("y", y0).attr("width", boxW).attr("height", boxH);

    // x axis
    const xDom = x.domain();
    g.append("g")
        .attr("transform", `translate(0,${y0 + boxH})`)
        .call(d3.axisBottom(x)
            .tickValues(xTickValues.filter(v => v >= xDom[0] && v <= xDom[1]))
            .tickFormat(fmt)
            .tickSize(6)
            .tickPadding(10))
        .call(a => a.select(".domain").remove())
        .call(a => a.selectAll("line").attr("stroke", "#333"))
        .call(a => a.selectAll("text")
            .attr("fill", "#555")
            .style("font-size", "11px")
            .style("font-family", "'Liberation Sans', Arial, sans-serif"));

    // y axis, labels turned like R's default
    g.append("g")
        .attr("transform", `translate(${x0},0)`)
        .call(d3.axisLeft(y)
            .tickValues(yTickValues)
            .tickFormat(fmt)
            .tickSize(6))
        .call(a => a.select(".domain").remove())
        .call(a => a.selectAll("line").attr("stroke", "#333"))
        .call(a => a.selectAll("text")
            .attr("x", null)
            .attr("dy", null)
            .attr("text-anchor", "middle")
            .attr("transform", "translate(-17,0) rotate(-90)")
            .attr("fill", "#555")
            .style("font-size", "11px")
            .style("font-family", "'Liberation Sans', Arial, sans-serif"));

    // points
    g.append("g")
        .attr("clip-path", `url(#${clipId})`)
        .selectAll("circle")
        .data(pts)
        .enter()
        .append("circle")
        .attr("cx", d => x(d[0]))
        .attr("cy", d => y(d[1]))
        .attr("r", 2.25)
        .attr("fill", "none")
        .attr("stroke", "#000")
        .attr("stroke-width", 1.15);

    // fitted line GS = HGS * K
    const line = d3.line().x(d => x(d)).y(d => y(hgsValues[i] * d));
    g.append("path")
        .datum(xDom)
        .attr("clip-path", `url(#${clipId})`)
        .attr("d", line)
        .attr("fill", "none")
        .attr("stroke", "#ff1a1a")
        .attr("stroke-width", 1.3);

    // box
    g.append("rect")
        .attr("x", x0).attr("y", y0)
        .attr("width", boxW).attr("height", boxH)
        .attr("fill", "none")
        .attr("stroke", "#222")
        .attr("stroke-width", 1.2);

    // title
    g.append("text")
        .attr("x", x0 + boxW / 2)
        .attr("y", y0 - 27)
        .attr("text-anchor", "middle")
        .style("font-size", "23px")
        .style("font-weight", "bold")
        .text(`${name}, HGS=${hgsValues[i]}`);

    // axis titles
    g.append("text")
        .attr("transform", `translate(${x0 - 45},${y0 + boxH / 2}) rotate(-90)`)
        .attr("text-anchor", "middle")
        .style("font-size", "23px")
        .text("Gene Significance");

    g.append("text")
        .attr("x", x0 + boxW / 2)
        .attr("y", y0 + boxH + 51)
        .attr("text-anchor", "middle")
        .style("font-size", "23px")
        .text("K");
});
</script>
</body>
</html>
